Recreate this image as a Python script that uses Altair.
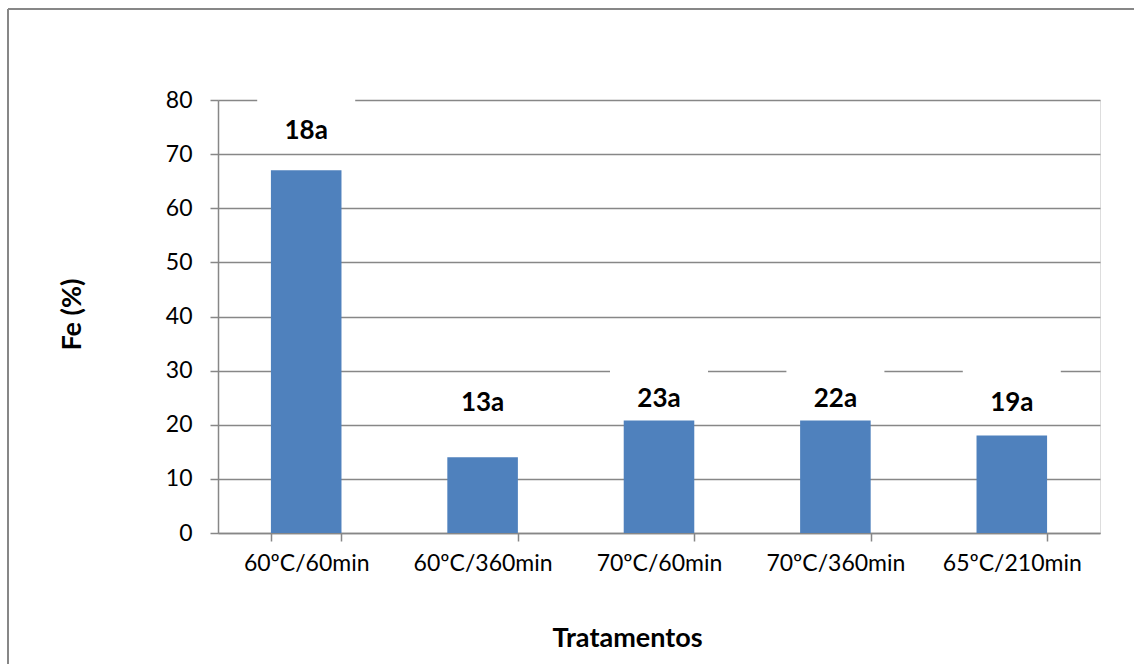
import altair as alt
import pandas as pd

categories = ["60ºC/60min", "60ºC/360min", "70ºC/60min", "70ºC/360min", "65ºC/210min"]
values = [67.0, 14.0, 20.8, 20.8, 18.0]
labels = ["18a", "13a", "23a", "22a", "19a"]
label_y = [74.3, 24.0, 24.7, 24.7, 24.1]
box_bottom = [72.0, 21.0, 22.0, 22.0, 22.0]
box_top = [80.4, 28.0, 30.4, 30.4, 30.4]

df = pd.DataFrame({
    "cat": categories,
    "value": values,
    "label": labels,
    "label_y": label_y,
    "box_bottom": box_bottom,
    "box_top": box_top,
})

GRAY = "#878787"
FONT = "Lato"

xscale = alt.Scale(paddingInner=0.6, paddingOuter=0.3)
yscale = alt.Scale(domain=[0, 80], nice=False, zero=True)

xaxis = alt.Axis(title="Tratamentos", labelAngle=0, tickBand="extent",
                 domainColor=GRAY, tickColor=GRAY, tickSize=8, domainWidth=1.5,
                 tickWidth=1.5, labelPadding=22, labelBaseline="middle",
                 labelFontSize=23, labelColor="#000000", labelFont=FONT,
                 titleFont=FONT, titleFontSize=27, titleFontWeight="bold",
                 titleColor="#000000", titleX=409, titleY=105,
                 titleBaseline="middle", titleAlign="center", grid=False)
yaxis = alt.Axis(title="Fe (%)", values=list(range(0, 81, 10)),
                 domainColor=GRAY, tickColor=GRAY, tickSize=8, domainWidth=1.5,
                 tickWidth=1.5, gridColor=GRAY, gridWidth=1.3, labelPadding=18,
                 labelFontSize=23, labelColor="#000000", labelFont=FONT,
                 titleFont=FONT, titleFontSize=27, titleFontWeight="bold",
                 titleColor="#000000", titleX=-146, titleY=214, titleAngle=-90,
                 titleBaseline="middle", titleAlign="center")

base = alt.Chart(df)

bars = base.mark_bar(color="#4F81BD").encode(
    x=alt.X("cat:N", sort=categories, scale=xscale, axis=xaxis),
    y=alt.Y("value:Q", scale=yscale, axis=yaxis),
)

boxes = base.mark_bar(color="#FFFFFF", width=98).encode(
    x=alt.X("cat:N", sort=categories, scale=xscale, axis=xaxis),
    y=alt.Y("box_bottom:Q", scale=yscale, axis=yaxis),
    y2="box_top:Q",
)

text = base.mark_text(font=FONT, fontSize=26, fontWeight="bold", color="#000000",
                      baseline="middle", align="center").encode(
    x=alt.X("cat:N", sort=categories, scale=xscale, axis=xaxis),
    y=alt.Y("label_y:Q", scale=yscale, axis=yaxis),
    text="label:N",
)

one = alt.Chart(pd.DataFrame({"a": [0]}))
border_left = one.mark_rule(color=GRAY, strokeWidth=2).encode(
    x=alt.value(-210), y=alt.value(-91), y2=alt.value(564))
border_top = one.mark_rule(color=GRAY, strokeWidth=2).encode(
    x=alt.value(-210), x2=alt.value(916), y=alt.value(-91))

chart = alt.layer(bars, boxes, text, border_left, border_top).properties(
    width=882, height=433,
    autosize=alt.AutoSizeParams(type="none"),
    padding={"left": 218, "top": 100, "right": 34, "bottom": 131},
    background="#FFFFFF",
).configure_view(strokeWidth=0, stroke="transparent").configure(font=FONT)

chart.save("out.html", embed_options={"renderer": "svg", "actions": False})
